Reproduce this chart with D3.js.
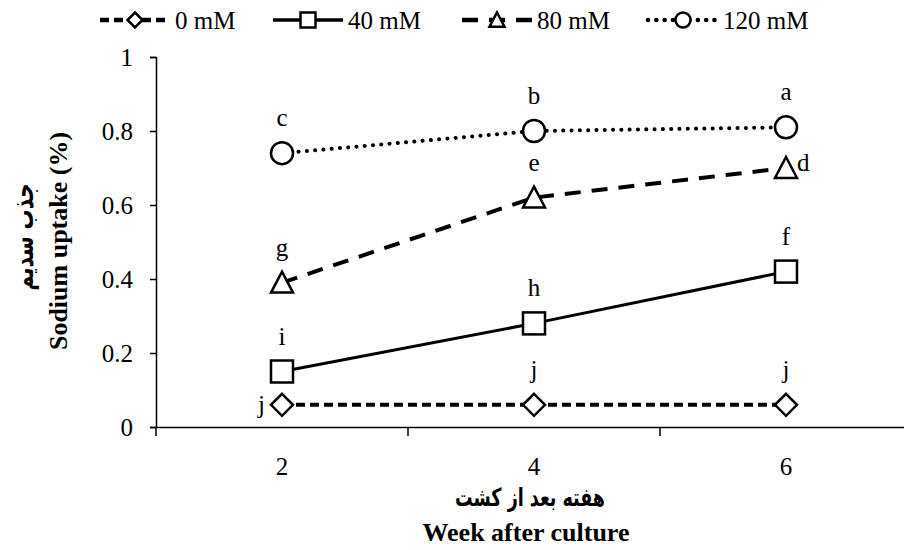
<!DOCTYPE html>
<html>
<head>
<meta charset="utf-8">
<script src="https://cdn.jsdelivr.net/npm/d3@7"></script>
<style>
  body { margin: 0; background: #fff; }
  text { font-family: "Liberation Serif", "Times New Roman", serif; fill: #000; }
  text.fa { font-family: "DejaVu Sans", sans-serif; font-weight: bold; }
</style>
</head>
<body>
<div id="chart"></div>
<script>
const width = 904, height = 550;

// weeks after culture
const weeks = ["2", "4", "6"];
const seriesNames = ["0 mM", "40 mM", "80 mM", "120 mM"];
const na0 = [0.06, 0.06, 0.06];
const na40 = [0.15, 0.28, 0.42];
const na80 = [0.39, 0.62, 0.70];
const na120 = [0.74, 0.80, 0.81];
const letters0 = ["j", "j", "j"];
const letters40 = ["i", "h", "f"];
const letters80 = ["g", "e", "d"];
const letters120 = ["c", "b", "a"];
const yTicks = [0, 0.2, 0.4, 0.6, 0.8, 1];

const series = [
  { name: seriesNames[0], values: na0, letters: letters0, marker: "diamond", dash: "9,5", cap: "butt", lw: 4 },
  { name: seriesNames[1], values: na40, letters: letters40, marker: "square", dash: null, cap: "butt", lw: 3 },
  { name: seriesNames[2], values: na80, letters: letters80, marker: "triangle", dash: "16,11", cap: "butt", lw: 4 },
  { name: seriesNames[3], values: na120, letters: letters120, marker: "circle", dash: "0.1,8.2", cap: "round", lw: 4 }
];

const margin = { left: 156, top: 57, bottom: 123 };
// axis runs past the right edge of the picture, as in the original
const x = d3.scaleBand().domain(weeks).range([margin.left, 912]);
const y = d3.scaleLinear().domain([0, 1]).range([height - margin.bottom, margin.top]);

const svg = d3.select("#chart").append("svg")
  .attr("width", width)
  .attr("height", height);

// axes
const yAxis = svg.append("g")
  .attr("transform", `translate(${margin.left},0)`)
  .call(d3.axisLeft(y).tickValues(yTicks).tickFormat(d => d3.format("")(d)).tickSize(6).tickPadding(17));
yAxis.select(".domain").attr("stroke", "#000").attr("stroke-width", 1.5);
yAxis.selectAll(".tick line").attr("stroke-width", 1.5);
yAxis.selectAll("text").style("font-size", "25px").attr("dy", "0.35em");

const xAxis = svg.append("g")
  .attr("transform", `translate(0,${y(0)})`)
  .call(d3.axisBottom(x).tickSize(0).tickPadding(30));
xAxis.select(".domain").attr("stroke", "#000").attr("stroke-width", 1.5);
xAxis.selectAll("text").style("font-size", "25px");
// category boundary ticks
xAxis.selectAll(".bound")
  .data(weeks.concat("end"))
  .join("line")
  .attr("x1", d => d === "end" ? x.range()[1] : x(d))
  .attr("x2", d => d === "end" ? x.range()[1] : x(d))
  .attr("y1", 0).attr("y2", 9)
  .attr("stroke", "#000").attr("stroke-width", 1.5);

// marker drawing helper
function drawMarker(g, type, s) {
  const h = s / 2;
  if (type === "diamond") {
    g.append("path").attr("d", `M0,${-h}L${h},0L0,${h}L${-h},0Z`);
  } else if (type === "square") {
    g.append("rect").attr("x", -h).attr("y", -h).attr("width", s).attr("height", s);
  } else if (type === "triangle") {
    g.append("path").attr("d", `M0,${-h}L${h},${h * 0.9}L${-h},${h * 0.9}Z`);
  } else {
    g.append("circle").attr("r", h);
  }
  g.selectAll("*").attr("fill", "#fff").attr("stroke", "#000").attr("stroke-width", 2.5);
}

const cxOf = i => x(weeks[i]) + x.bandwidth() / 2;
const line = d3.line()
  .x((d, i) => cxOf(i))
  .y(d => y(d));

series.forEach(s => {
  svg.append("path")
    .datum(s.values)
    .attr("d", line)
    .attr("fill", "none")
    .attr("stroke", "#000")
    .attr("stroke-width", s.lw)
    .attr("stroke-linecap", s.cap)
    .attr("stroke-dasharray", s.dash);

  s.values.forEach((v, i) => {
    const g = svg.append("g").attr("transform", `translate(${cxOf(i)},${y(v)})`);
    drawMarker(g, s.marker, 22);
  });

  // significance letters
  s.letters.forEach((l, i) => {
    const cx = cxOf(i), cy = y(s.values[i]);
    let tx = cx, ty = cy - 27, anchor = "middle";
    if (s.marker === "diamond" && i === 0) { tx = cx - 17; ty = cy + 8; anchor = "end"; }
    if (s.marker === "triangle" && i === 2) { tx = cx + 11; ty = cy + 3; anchor = "start"; }
    svg.append("text")
      .attr("x", tx).attr("y", ty)
      .attr("text-anchor", anchor)
      .style("font-size", "25px")
      .text(l);
  });
});

// legend
const legendX = [100, 273, 462, 648];
series.forEach((s, i) => {
  const lg = svg.append("g").attr("transform", `translate(${legendX[i]},20)`);
  lg.append("line")
    .attr("x1", 0).attr("x2", 70)
    .attr("stroke", "#000")
    .attr("stroke-width", s.lw + 0.5)
    .attr("stroke-linecap", s.cap)
    .attr("stroke-dasharray", s.dash);
  const m = lg.append("g").attr("transform", "translate(35,0)");
  drawMarker(m, s.marker, 15);
  lg.append("text")
    .attr("x", 75).attr("y", 0).attr("dy", "0.35em")
    .style("font-size", "25px")
    .text(s.name);
});

// axis titles
const plotMid = 530;
svg.append("text")
  .attr("class", "fa")
  .attr("x", plotMid).attr("y", 506)
  .attr("text-anchor", "middle")
  .attr("textLength", 150)
  .attr("lengthAdjust", "spacingAndGlyphs")
  .style("font-size", "25px")
  .text("هفته بعد از کشت");
svg.append("text")
  .attr("x", plotMid - 4).attr("y", 541)
  .attr("text-anchor", "middle")
  .style("font-size", "26px")
  .style("font-weight", "bold")
  .text("Week after culture");

svg.append("text")
  .attr("transform", `translate(67,241) rotate(-90)`)
  .attr("text-anchor", "middle")
  .style("font-size", "26px")
  .style("font-weight", "bold")
  .text("Sodium uptake (%)");
svg.append("text")
  .attr("class", "fa")
  .attr("transform", `translate(33,237) rotate(-90)`)
  .attr("text-anchor", "middle")
  .attr("textLength", 107)
  .attr("lengthAdjust", "spacingAndGlyphs")
  .style("font-size", "27px")
  .text("جذب سدیم");
</script>
</body>
</html>
